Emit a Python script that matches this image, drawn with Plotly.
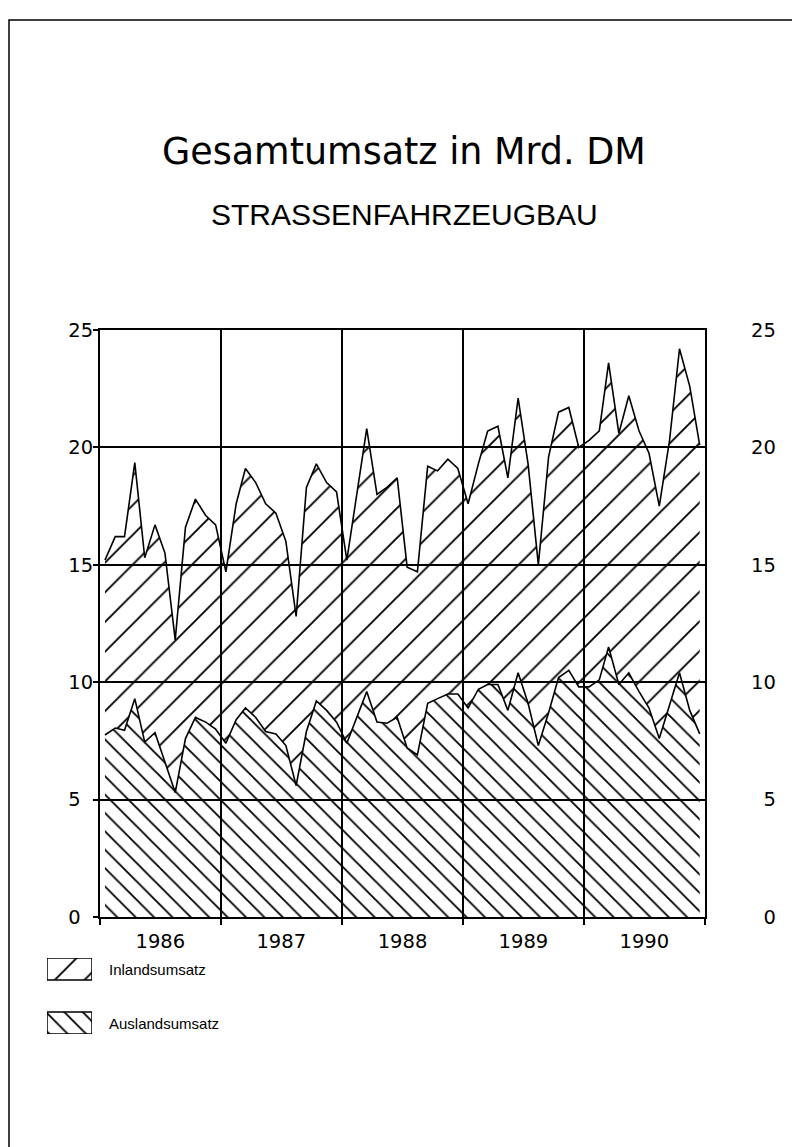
import pandas as pd
import plotly.graph_objects as go

# ---- data (Mrd. DM, monthly 1986-1990) ----
months = pd.date_range("1986-01-01", periods=60, freq="MS") + pd.Timedelta(days=15)

auslandsumsatz = [
    7.75, 8.05, 7.95, 9.3, 7.45, 7.85, 6.6, 5.3, 7.6, 8.5, 8.3, 8.0,
    7.4, 8.4, 8.9, 8.5, 7.9, 7.8, 7.3, 5.6, 7.9, 9.2, 8.8, 8.3,
    7.4, 8.5, 9.6, 8.3, 8.25, 8.5, 7.2, 6.9, 9.1, 9.3, 9.5, 9.5,
    8.9, 9.7, 9.9, 9.9, 8.8, 10.4, 9.1, 7.3, 8.7, 10.2, 10.5, 9.8,
    9.8, 10.1, 11.5, 9.9, 10.4, 9.6, 8.9, 7.6, 9.0, 10.4, 8.8, 7.8,
]
inlandsumsatz = [
    7.45, 8.15, 8.25, 10.05, 7.85, 8.85, 8.9, 6.5, 9.0, 9.3, 8.8, 8.7,
    7.3, 9.2, 10.2, 10.0, 9.7, 9.4, 8.7, 7.2, 10.4, 10.1, 9.7, 9.8,
    7.8, 9.7, 11.2, 9.7, 10.05, 10.2, 7.7, 7.8, 10.1, 9.7, 10.0, 9.6,
    8.7, 9.6, 10.8, 11.0, 9.9, 11.7, 10.2, 7.7, 10.9, 11.3, 11.2, 10.2,
    10.5, 10.6, 12.1, 10.7, 11.8, 11.1, 10.85, 9.9, 11.3, 13.8, 13.8, 12.3,
]

years = ["1986", "1987", "1988", "1989", "1990"]
year_mid = ["1986-07-02", "1987-07-02", "1988-07-02", "1989-07-02", "1990-07-02"]
year_bounds = ["1986-01-01", "1987-01-01", "1988-01-01", "1989-01-01", "1990-01-01", "1991-01-01"]
y_ticks = [0, 5, 10, 15, 20, 25]
legend_names = ["Inlandsumsatz", "Auslandsumsatz"]

FS = "\u2007"
y_text_left = [str(v) if v >= 10 else str(v) + FS for v in y_ticks]
y_text_right = [str(v) if v >= 10 else FS + str(v) for v in y_ticks]

W, H = 800, 1147
def px_x(p):
    return p / W
def px_y(p):
    return 1 - p / H

pat_in = dict(shape="/", size=21, solidity=0.09, fgcolor="black",
              fgopacity=1, bgcolor="rgba(0,0,0,0)")
pat_aus = dict(shape="\\", size=13, solidity=0.14, fgcolor="black",
               fgopacity=1, bgcolor="rgba(0,0,0,0)")

fig = go.Figure()
fig.add_trace(go.Scatter(
    x=months, y=auslandsumsatz, name="Auslandsumsatz", stackgroup="one",
    mode="lines", line=dict(color="black", width=1.6),
    fillcolor="rgba(0,0,0,0)", fillpattern=pat_aus, showlegend=False,
))
fig.add_trace(go.Scatter(
    x=months, y=inlandsumsatz, name="Inlandsumsatz", stackgroup="one",
    mode="lines", line=dict(color="black", width=1.6),
    fillcolor="rgba(0,0,0,0)", fillpattern=pat_in, showlegend=False,
))
# invisible trace to activate the right-hand axis
fig.add_trace(go.Scatter(x=[months[0]], y=[0], yaxis="y2", mode="markers",
                         marker=dict(opacity=0), showlegend=False, hoverinfo="skip"))

# legend swatches (hand-drawn legend panel)
sw_y = {"Inlandsumsatz": (54, 76), "Auslandsumsatz": (0, 22)}
for nm, pat in zip(legend_names, [pat_in, pat_aus]):
    y0, y1 = sw_y[nm]
    fig.add_trace(go.Scatter(
        x=[0, 45, 45, 0, 0], y=[y0, y0, y1, y1, y0], xaxis="x3", yaxis="y3",
        mode="lines", fill="toself", line=dict(color="black", width=1.5),
        fillcolor="rgba(0,0,0,0)", fillpattern=pat, showlegend=False,
        hoverinfo="skip",
    ))

tick_font = dict(family="DejaVu Sans", size=19.5, color="black")

annotations = [
    dict(text="Gesamtumsatz in Mrd. DM", xref="paper", yref="paper",
         x=px_x(396), y=px_y(143), xanchor="center", yanchor="middle", showarrow=False,
         font=dict(family="DejaVu Sans", size=36.5, color="black")),
    dict(text="STRASSENFAHRZEUGBAU", xref="paper", yref="paper",
         x=px_x(396), y=px_y(207), xanchor="center", yanchor="middle", showarrow=False,
         font=dict(family="Liberation Sans", size=30, color="black")),
]
for nm, yc in zip(legend_names, [961, 1015]):
    annotations.append(dict(text=nm, xref="paper", yref="paper",
                            x=px_x(99), y=px_y(yc), xanchor="left", yanchor="middle",
                            showarrow=False,
                            font=dict(family="Liberation Sans", size=15, color="black")))

fig.update_layout(
    width=W, height=H,
    margin=dict(l=0, r=0, t=0, b=0, autoexpand=False),
    paper_bgcolor="white", plot_bgcolor="white",
    showlegend=False,
    xaxis=dict(
        domain=[px_x(92), px_x(697)], automargin=False,
        range=["1986-01-01", "1991-01-01"],
        tickvals=year_mid, ticktext=years, ticks="", showgrid=False,
        tickfont=tick_font, ticklabelstandoff=6,
        showline=True, linecolor="black", linewidth=2, mirror=True,
        zeroline=False,
        minor=dict(tickvals=year_bounds, showgrid=True, gridcolor="black",
                   gridwidth=1.5, ticks="outside", ticklen=6, tickcolor="black",
                   tickwidth=1.5),
    ),
    yaxis=dict(
        domain=[px_y(909), px_y(322)], automargin=False,
        range=[0, 25], tickvals=y_ticks, ticktext=y_text_left,
        showgrid=True, gridcolor="black", gridwidth=2,
        ticks="outside", ticklen=5, tickcolor="black", tickwidth=1.5,
        tickfont=tick_font, ticklabelstandoff=-4,
        showline=True, linecolor="black", linewidth=2, mirror=True,
        zeroline=False,
    ),
    yaxis2=dict(
        range=[0, 25], tickvals=y_ticks, ticktext=y_text_right, automargin=False,
        overlaying="y", side="right", showgrid=False, zeroline=False,
        ticks="", tickfont=tick_font, ticklabelstandoff=45,
        showline=False,
    ),
    xaxis3=dict(domain=[px_x(39), px_x(84)], range=[0, 45], visible=False,
                fixedrange=True, anchor="y3", automargin=False),
    yaxis3=dict(domain=[px_y(1026), px_y(950)], range=[0, 76], visible=False,
                fixedrange=True, anchor="x3", automargin=False),
    annotations=annotations,
    shapes=[
        dict(type="rect", xref="paper", yref="paper",
             x0=px_x(1), x1=px_x(799), y0=px_y(1146), y1=px_y(12),
             line=dict(color="black", width=1.5), layer="below"),
    ],
)

fig.write_html("out.html")
